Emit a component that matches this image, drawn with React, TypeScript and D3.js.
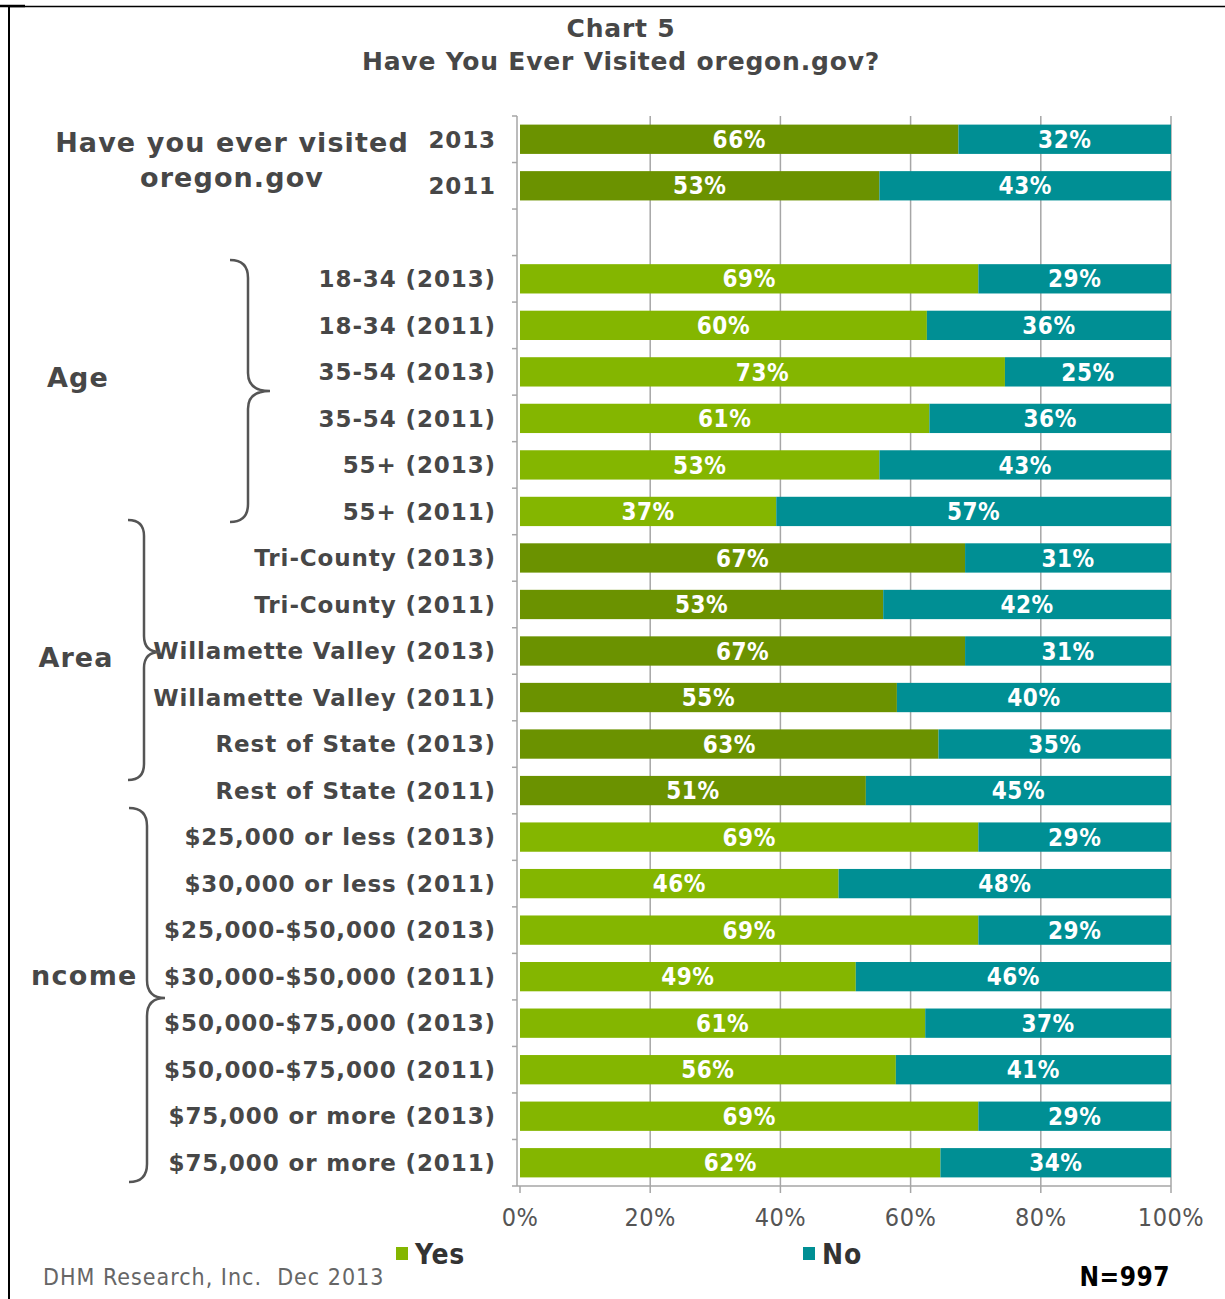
import React from "react";
import * as d3 from "d3";

const categories = [
  "2013", "2011",
  "18-34 (2013)", "18-34 (2011)", "35-54 (2013)", "35-54 (2011)", "55+ (2013)", "55+ (2011)",
  "Tri-County (2013)", "Tri-County (2011)", "Willamette Valley (2013)", "Willamette Valley (2011)",
  "Rest of State (2013)", "Rest of State (2011)",
  "$25,000 or less (2013)", "$30,000 or less (2011)", "$25,000-$50,000 (2013)", "$30,000-$50,000 (2011)",
  "$50,000-$75,000 (2013)", "$50,000-$75,000 (2011)", "$75,000 or more (2013)", "$75,000 or more (2011)",
];
const groups = [
  "visit", "visit",
  "age", "age", "age", "age", "age", "age",
  "area", "area", "area", "area", "area", "area",
  "income", "income", "income", "income", "income", "income", "income", "income",
];
const yesValues = [66, 53, 69, 60, 73, 61, 53, 37, 67, 53, 67, 55, 63, 51, 69, 46, 69, 49, 61, 56, 69, 62];
const noValues = [32, 43, 29, 36, 25, 36, 43, 57, 31, 42, 31, 40, 35, 45, 29, 48, 29, 46, 37, 41, 29, 34];
const xTicks = [0, 0.2, 0.4, 0.6, 0.8, 1];

const GAP_AFTER = 2;
const DARK = "#6b9200";
const LIGHT = "#84b600";
const TEAL = "#008f94";
const BOLD = "'DejaVu Sans', Verdana, sans-serif";
const COND = "'DejaVu Sans Condensed', 'DejaVu Sans', sans-serif";

const rowKeys = (() => {
  const k: string[] = [];
  categories.forEach((_, i) => {
    if (i === GAP_AFTER) k.push("gap");
    k.push("r" + i);
  });
  return k;
})();

function brace(x: number, y0: number, y1: number, tipX: number, tipY: number, r: number) {
  return [
    `M ${x - r} ${y0}`,
    `Q ${x} ${y0} ${x} ${y0 + r}`,
    `L ${x} ${tipY - r}`,
    `Q ${x} ${tipY} ${tipX} ${tipY}`,
    `Q ${x} ${tipY} ${x} ${tipY + r}`,
    `L ${x} ${y1 - r}`,
    `Q ${x} ${y1} ${x - r} ${y1}`,
  ].join(" ");
}

export default function App() {
  const W = 1225, H = 1299;
  const x0 = 520, x1 = 1171, top = 116, bottom = 1186;
  const x = d3.scaleLinear().domain([0, 1]).range([x0, x1]);
  const y = d3.scaleBand<string>().domain(rowKeys).range([top, bottom]).paddingInner(0.37).paddingOuter(0.185);
  const step = y.step();
  const boundaries = d3.range(rowKeys.length + 1).map((i) => top + i * step);

  return (
    <svg width={W} height={H} style={{ position: "absolute", left: 0, top: 0, background: "#fff" }}>
      <rect x={0} y={0} width={W} height={H} fill="#fff" />
      <line x1={8} y1={6.5} x2={W} y2={6.5} stroke="#000" strokeWidth={1.5} />
      <line x1={0} y1={6} x2={25} y2={6} stroke="#000" strokeWidth={2.5} />
      <line x1={9} y1={6} x2={9} y2={H} stroke="#000" strokeWidth={2} />

      <text x={621} y={37} textAnchor="middle" fontFamily={BOLD} fontWeight="bold" fontSize={25} letterSpacing={0.8} fill="#474747">Chart 5</text>
      <text x={621} y={70} textAnchor="middle" fontFamily={BOLD} fontWeight="bold" fontSize={25} letterSpacing={0.8} fill="#474747">Have You Ever Visited oregon.gov?</text>

      {xTicks.slice(1).map((t) => (
        <line key={t} x1={x(t)} x2={x(t)} y1={top} y2={bottom} stroke="#a6a6a6" strokeWidth={1.5} />
      ))}

      {categories.map((c, i) => {
        const key = "r" + i;
        const total = yesValues[i] + noValues[i];
        const yp = yesValues[i] / total;
        const by = y(key)!;
        const bh = y.bandwidth();
        const yesColor = groups[i] === "visit" || groups[i] === "area" ? DARK : LIGHT;
        const cy = by + bh / 2;
        return (
          <g key={key}>
            <rect x={x(0)} y={by} width={x(yp) - x(0)} height={bh} fill={yesColor} />
            <rect x={x(yp)} y={by} width={x(1) - x(yp)} height={bh} fill={TEAL} />
            <text x={(x(0) + x(yp)) / 2} y={cy} dy="0.36em" textAnchor="middle" fontFamily={COND} fontWeight="bold" fontSize={24} letterSpacing={0.5} fill="#fff">{yesValues[i]}%</text>
            <text x={(x(yp) + x(1)) / 2} y={cy} dy="0.36em" textAnchor="middle" fontFamily={COND} fontWeight="bold" fontSize={24} letterSpacing={0.5} fill="#fff">{noValues[i]}%</text>
            <text x={496} y={cy} dy="0.36em" textAnchor="end" fontFamily={BOLD} fontWeight="bold" fontSize={23} letterSpacing={0.9} fill="#474747">{c}</text>
          </g>
        );
      })}

      <line x1={517} x2={517} y1={top} y2={bottom} stroke="#a6a6a6" strokeWidth={1.5} />
      {boundaries.map((b, i) => (
        <line key={i} x1={512} x2={517} y1={b} y2={b} stroke="#a6a6a6" strokeWidth={1.5} />
      ))}
      <line x1={517} x2={x1} y1={bottom} y2={bottom} stroke="#a6a6a6" strokeWidth={1.5} />
      {xTicks.map((t) => (
        <g key={t}>
          <line x1={x(t)} x2={x(t)} y1={bottom} y2={bottom + 7} stroke="#a6a6a6" strokeWidth={1.5} />
          <text x={x(t)} y={1226} textAnchor="middle" fontFamily={COND} fontSize={25} letterSpacing={0.5} fill="#555">{`${Math.round(t * 100)}%`}</text>
        </g>
      ))}

      <text x={232} y={152} textAnchor="middle" fontFamily={BOLD} fontWeight="bold" fontSize={27} letterSpacing={1.1} fill="#474747">Have you ever visited</text>
      <text x={232} y={187} textAnchor="middle" fontFamily={BOLD} fontWeight="bold" fontSize={27} letterSpacing={1.1} fill="#474747">oregon.gov</text>
      <text x={78} y={387} textAnchor="middle" fontFamily={BOLD} fontWeight="bold" fontSize={27} letterSpacing={1.1} fill="#474747">Age</text>
      <text x={76} y={667} textAnchor="middle" fontFamily={BOLD} fontWeight="bold" fontSize={27} letterSpacing={1.1} fill="#474747">Area</text>
      <text x={31} y={985} textAnchor="start" fontFamily={BOLD} fontWeight="bold" fontSize={27} letterSpacing={1.3} fill="#474747">ncome</text>

      <path d={brace(248, 260, 522, 270, 391, 18)} fill="none" stroke="#555" strokeWidth={2.5} />
      <path d={brace(144, 520, 780, 160, 652, 16)} fill="none" stroke="#555" strokeWidth={2.5} />
      <path d={brace(147, 808, 1182, 165, 998, 18)} fill="none" stroke="#555" strokeWidth={2.5} />

      <rect x={396} y={1247} width={12} height={13} fill={LIGHT} />
      <text x={415} y={1264} fontFamily={COND} fontWeight="bold" fontSize={28} letterSpacing={0.8} fill="#333">Yes</text>
      <rect x={803} y={1247} width={12} height={13} fill={TEAL} />
      <text x={822} y={1264} fontFamily={COND} fontWeight="bold" fontSize={28} letterSpacing={0.8} fill="#333">No</text>

      <text x={43} y={1285} fontFamily={COND} fontSize={23} letterSpacing={1} fill="#666" style={{ whiteSpace: "pre" }}>{"DHM Research, Inc.  Dec 2013"}</text>
      <text x={1170} y={1286} textAnchor="end" fontFamily={COND} fontWeight="bold" fontSize={26} letterSpacing={0.5} fill="#000">N=997</text>
    </svg>
  );
}
